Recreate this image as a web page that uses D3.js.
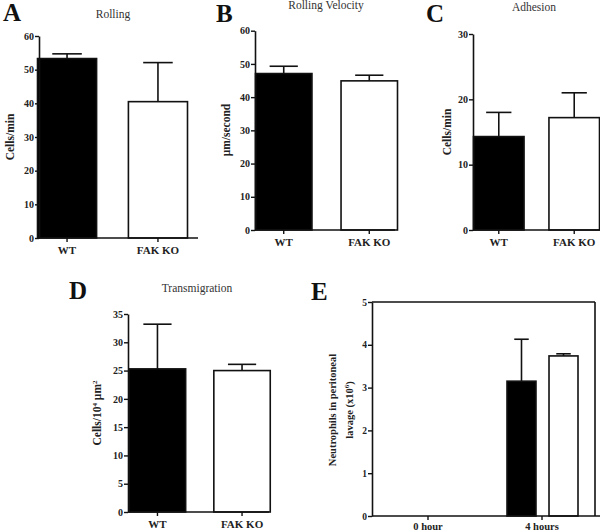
<!DOCTYPE html>
<html>
<head>
<meta charset="utf-8">
<script src="https://cdn.jsdelivr.net/npm/d3@7"></script>
<style>
html,body{margin:0;padding:0;background:#fff;}
svg{display:block;}
svg text{font-family:"Liberation Serif","Times New Roman","DejaVu Serif","Noto Serif",serif !important;}
</style>
</head>
<body>
<svg id="chart" width="600" height="532"></svg>
<script>
// ---------- data ----------
const groups = ["WT", "FAK KO"];

const rollingValues = [53.3, 40.5];
const rollingErrors = [1.4, 11.6];
const rollingTicks = [0, 10, 20, 30, 40, 50, 60];

const velocityValues = [47.1, 44.9];
const velocityErrors = [2.2, 1.7];
const velocityTicks = [0, 10, 20, 30, 40, 50, 60];

const adhesionValues = [14.3, 17.2];
const adhesionErrors = [3.7, 3.8];
const adhesionTicks = [0, 10, 20, 30];

const transValues = [25.3, 25.0];
const transErrors = [7.9, 1.1];
const transTicks = [0, 5, 10, 15, 20, 25, 30, 35];

const timepoints = ["0 hour", "4 hours"];
const lavageWT = [0, 3.15];
const lavageWTErr = [0, 0.98];
const lavageKO = [0, 3.74];
const lavageKOErr = [0, 0.05];
const lavageTicks = [0, 1, 2, 3, 4, 5];

// ---------- drawing ----------
const svg = d3.select("#chart");
const serif = '"Liberation Serif","Times New Roman","DejaVu Serif",serif';
const fills = {"WT": "#000", "FAK KO": "#fff"};

function panelLetter(txt, x, y) {
  svg.append("text").attr("x", x).attr("y", y)
    .attr("font-family", serif).attr("font-weight", "bold")
    .attr("font-size", 25).attr("fill", "#111").text(txt);
}
function title(txt, x, y) {
  svg.append("text").attr("x", x).attr("y", y).attr("text-anchor", "middle")
    .attr("font-family", serif).attr("font-size", 11.5).attr("fill", "#333").text(txt);
}

function drawErr(g, cx, yTop, yVal, capW) {
  g.append("line").attr("x1", cx).attr("x2", cx).attr("y1", yVal).attr("y2", yTop)
    .attr("stroke", "#111").attr("stroke-width", 1.6);
  g.append("line").attr("x1", cx - capW / 2).attr("x2", cx + capW / 2).attr("y1", yTop).attr("y2", yTop)
    .attr("stroke", "#111").attr("stroke-width", 1.6);
}

function styleAxis(g, fontSize) {
  g.attr("font-family", serif);
  g.select(".domain").attr("stroke", "#111").attr("stroke-width", 1.6);
  g.selectAll(".tick line").attr("stroke", "#111").attr("stroke-width", 1.4);
  g.selectAll(".tick text").attr("font-size", fontSize).attr("font-weight", "bold").attr("fill", "#222");
}

function barPanel(p) {
  const y = d3.scaleLinear().domain([0, p.ticks[p.ticks.length - 1]]).range([p.y0, p.y1]);
  const x = d3.scaleBand().domain(groups).range(p.xr).paddingInner(p.pad).paddingOuter(0);
  const g = svg.append("g");
  groups.forEach((k, i) => {
    g.append("rect").attr("x", x(k)).attr("width", x.bandwidth())
      .attr("y", y(p.values[i])).attr("height", y(0) - y(p.values[i]))
      .attr("fill", fills[k]).attr("stroke", "#111").attr("stroke-width", 1.6);
    drawErr(g, x(k) + x.bandwidth() / 2, y(p.values[i] + p.errors[i]), y(p.values[i]), x.bandwidth() / 2);
  });
  const ya = g.append("g").attr("transform", `translate(${p.ax},0)`)
    .call(d3.axisLeft(y).tickValues(p.ticks).tickFormat(d3.format("d")).tickSize(4).tickSizeOuter(0).tickPadding(1));
  styleAxis(ya, 10);
  g.append("line").attr("x1", p.ax).attr("x2", p.axEnd).attr("y1", p.y0).attr("y2", p.y0)
    .attr("stroke", "#111").attr("stroke-width", 1.6);
  const xa = g.append("g").attr("transform", `translate(0,${p.y0})`)
    .call(d3.axisBottom(x).tickSize(4).tickSizeOuter(0).tickPadding(4));
  xa.select(".domain").remove();
  styleAxis(xa, 11);
  const yl = g.append("text").attr("transform", `translate(${p.lx},${p.ly}) rotate(-90)`)
    .attr("text-anchor", "middle").attr("font-family", serif).attr("font-weight", "bold")
    .attr("font-size", 11.5).attr("fill", "#222");
  p.label(yl);
}

// Panel A
panelLetter("A", 3, 21);
title("Rolling", 113, 18);
barPanel({values: rollingValues, errors: rollingErrors, ticks: rollingTicks,
  y0: 238, y1: 36, ax: 39, axEnd: 198, xr: [37.5, 187.5], pad: 0.35,
  lx: 14, ly: 137, label: t => t.text("Cells/min")});

// Panel B
panelLetter("B", 216, 22);
title("Rolling Velocity", 326, 9);
barPanel({values: velocityValues, errors: velocityErrors, ticks: velocityTicks,
  y0: 230, y1: 30.7, ax: 255, axEnd: 395, xr: [255.5, 397.5], pad: 0.34,
  lx: 230, ly: 130, label: t => t.text("μm/second")});

// Panel C
panelLetter("C", 426, 22);
title("Adhesion", 534, 11);
barPanel({values: adhesionValues, errors: adhesionErrors, ticks: adhesionTicks,
  y0: 230, y1: 34, ax: 473, axEnd: 600, xr: [473.5, 599.5], pad: 0.33,
  lx: 451, ly: 132, label: t => t.text("Cells/min")});

// Panel D
panelLetter("D", 69, 299);
title("Transmigration", 197, 292);
barPanel({values: transValues, errors: transErrors, ticks: transTicks,
  y0: 512, y1: 314, ax: 128, axEnd: 269, xr: [129.25, 270.25], pad: 0.333,
  lx: 101, ly: 413, label: t => {
    t.append("tspan").text("Cells/10");
    t.append("tspan").attr("dy", -4).attr("font-size", 7).text("4");
    t.append("tspan").attr("dy", 4).text(" μm");
    t.append("tspan").attr("dy", -4).attr("font-size", 7).text("2");
  }});

// Panel E
panelLetter("E", 311, 300);
(function () {
  const y = d3.scaleLinear().domain([0, 5]).range([516, 302]);
  const x0 = d3.scaleBand().domain(timepoints).range([371, 599]).padding(0);
  const x1 = d3.scaleBand().domain(groups).range([22, 93]).paddingInner(0.31).paddingOuter(0);
  const g = svg.append("g");
  const series = {"WT": [lavageWT, lavageWTErr], "FAK KO": [lavageKO, lavageKOErr]};
  timepoints.forEach((tp, j) => {
    groups.forEach(k => {
      const v = series[k][0][j], e = series[k][1][j];
      if (v <= 0) return;
      const bx = x0(tp) + x1(k);
      g.append("rect").attr("x", bx).attr("width", x1.bandwidth())
        .attr("y", y(v)).attr("height", y(0) - y(v))
        .attr("fill", fills[k]).attr("stroke", "#111").attr("stroke-width", 1.6);
      drawErr(g, bx + x1.bandwidth() / 2, y(v + e), y(v), x1.bandwidth() / 2);
    });
  });
  g.append("line").attr("x1", 372).attr("x2", 595).attr("y1", 302).attr("y2", 302)
    .attr("stroke", "#111").attr("stroke-width", 1.6);
  g.append("line").attr("x1", 595).attr("x2", 595).attr("y1", 302).attr("y2", 516)
    .attr("stroke", "#111").attr("stroke-width", 1.6);
  const ya = g.append("g").attr("transform", "translate(372,0)")
    .call(d3.axisLeft(y).tickValues(lavageTicks).tickFormat(d3.format("d")).tickSize(4).tickSizeOuter(0).tickPadding(1));
  styleAxis(ya, 9.5);
  g.append("line").attr("x1", 372).attr("x2", 600).attr("y1", 516).attr("y2", 516)
    .attr("stroke", "#111").attr("stroke-width", 1.6);
  const xa = g.append("g").attr("transform", "translate(0,516)")
    .call(d3.axisBottom(x0).tickSize(4).tickSizeOuter(0).tickPadding(3));
  xa.select(".domain").remove();
  styleAxis(xa, 10.5);
  const yl = g.append("text").attr("transform", "translate(336,410) rotate(-90)")
    .attr("text-anchor", "middle").attr("font-family", serif).attr("font-weight", "bold")
    .attr("font-size", 10.5).attr("fill", "#222");
  yl.append("tspan").attr("x", 0).attr("dy", 0).text("Neutrophils in peritoneal");
  const l2 = yl.append("tspan").attr("x", 0).attr("dy", 17);
  l2.append("tspan").text("lavage (x10");
  l2.append("tspan").attr("dy", -4).attr("font-size", 7).text("6");
  l2.append("tspan").attr("dy", 4).text(")");
})();
</script>
</body>
</html>
